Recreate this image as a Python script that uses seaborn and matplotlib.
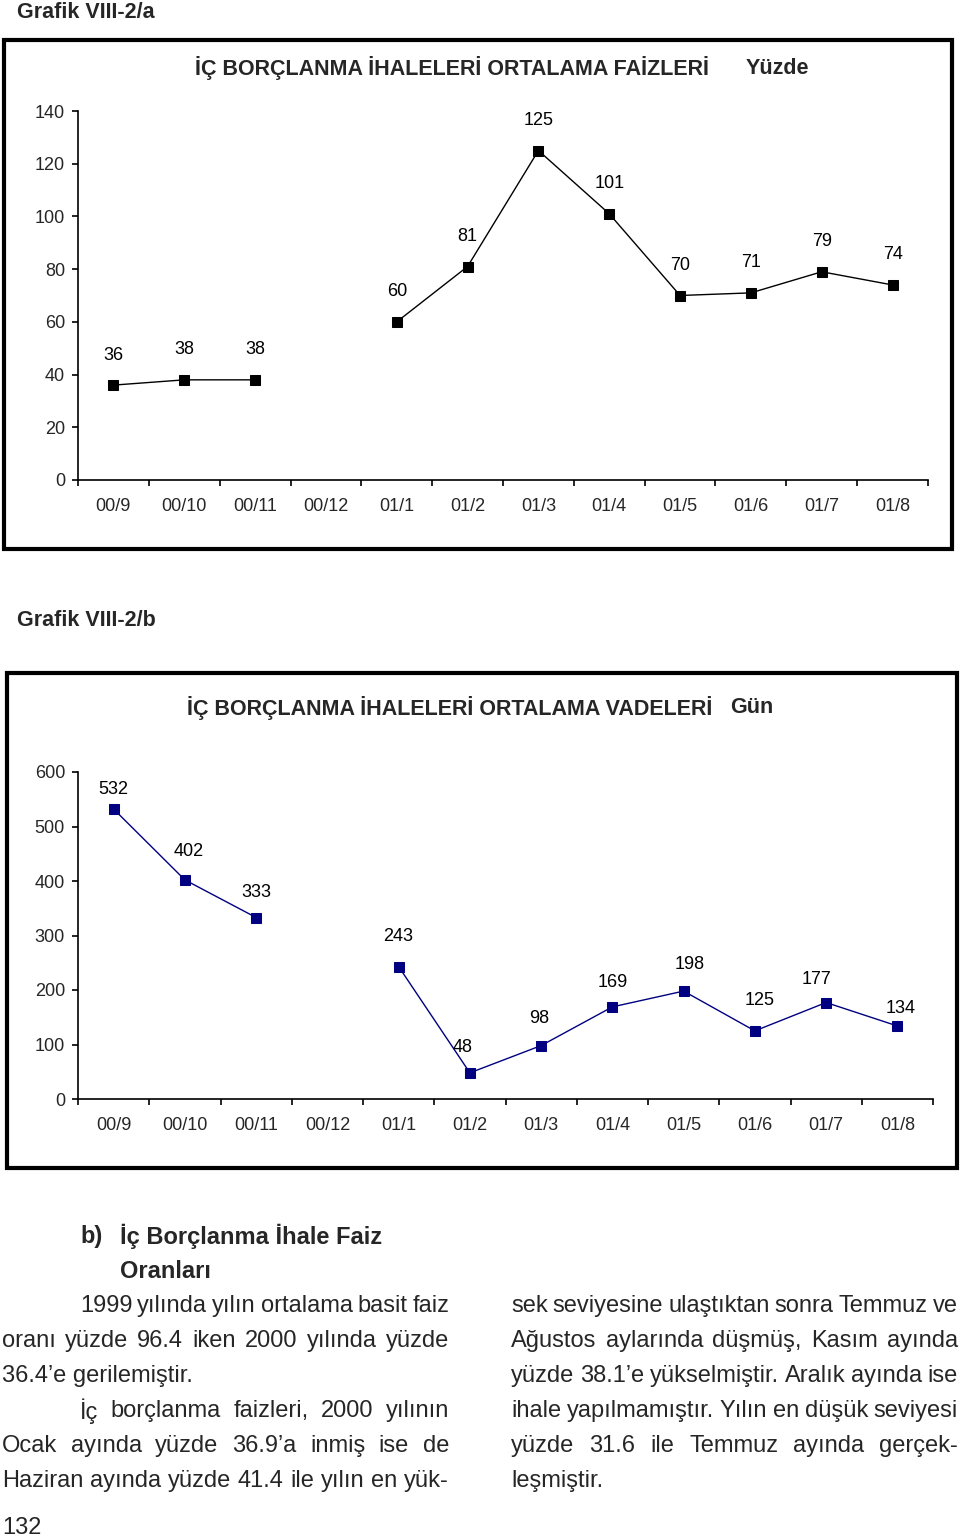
import numpy as np
import pandas as pd
import matplotlib
matplotlib.use("Agg")
import matplotlib.pyplot as plt
import seaborn as sns
from matplotlib.patches import Rectangle

W, H = 960, 1537

MONTHS = ["00/9", "00/10", "00/11", "00/12", "01/1", "01/2",
          "01/3", "01/4", "01/5", "01/6", "01/7", "01/8"]
FAIZ = [36, 38, 38, np.nan, 60, 81, 125, 101, 70, 71, 79, 74]
VADE = [532, 402, 333, np.nan, 243, 48, 98, 169, 198, 125, 177, 134]

# label offsets (px) from each point, as Excel placed them
FAIZ_OFF = [(0, 30)] * 12
VADE_OFF = [(0, 20), (4, 28), (0, 25), (0, 0), (0, 30), (-7, 25),
            (-2, 27), (0, 24), (6, 27), (5, 30), (-10, 23), (3, 17)]

LEFT_COL = [
    ("1999 yılında yılın ortalama basit faiz", 80, True),
    ("oranı yüzde 96.4 iken 2000 yılında yüzde", 2, True),
    ("36.4’e gerilemiştir.", 2, False),
    ("İç borçlanma faizleri, 2000 yılının", 80, True),
    ("Ocak ayında yüzde 36.9’a inmiş ise de", 2, True),
    ("Haziran ayında yüzde 41.4 ile yılın en yük-", 2, True),
]
RIGHT_COL = [
    "sek seviyesine ulaştıktan sonra Temmuz ve",
    "Ağustos aylarında düşmüş, Kasım ayında",
    "yüzde 38.1’e yükselmiştir. Aralık ayında ise",
    "ihale yapılmamıştır. Yılın en düşük seviyesi",
    "yüzde 31.6 ile Temmuz ayında gerçek-",
    "leşmiştir.",
]

sns.set_style("ticks")
plt.rcParams["font.family"] = ["Liberation Sans", "DejaVu Sans"]

fig = plt.figure(figsize=(W / 100, H / 100), dpi=100)
PT = 0.72  # points per pixel at dpi 100
TICK_FS = 13
TITLE_FS = 15.5


def fy(py):
    return 1 - py / H


def chart_axes(left, top, right, bottom):
    return fig.add_axes([left / W, 1 - bottom / H, (right - left) / W, (bottom - top) / H])


def draw_series(ax, values, color, ymax, ystep, offsets):
    df = pd.DataFrame({"pos": range(len(values)), "val": values})
    df["seg"] = df["val"].isna().cumsum()
    df = df.dropna()
    for _, part in df.groupby("seg"):
        sns.lineplot(data=part, x="pos", y="val", color=color, marker="s",
                     markersize=6.5, markeredgecolor=color, linewidth=1.0, ax=ax)
    for p, v in zip(df["pos"], df["val"]):
        dx, dy = offsets[p]
        ax.annotate(f"{v:.0f}", (p, v), xytext=(dx * PT, dy * PT),
                    textcoords="offset points", ha="center", va="center",
                    fontsize=TICK_FS, color="black")
    ax.set_xlim(-0.5, len(values) - 0.5)
    ax.set_ylim(0, ymax)
    ax.set_yticks(range(0, ymax + 1, ystep))
    ax.set_xticks(np.arange(-0.5, len(values), 1))
    ax.set_xticklabels([])
    ax.set_xticks(range(len(values)), minor=True)
    ax.set_xticklabels(MONTHS, minor=True)
    ax.tick_params(axis="x", which="minor", length=0, pad=13, labelsize=TICK_FS)
    ax.tick_params(axis="x", which="major", length=6 * PT, width=1.2, color="black")
    ax.tick_params(axis="y", length=6 * PT, width=1.2, pad=5, labelsize=TICK_FS, color="black")
    for s in ("left", "bottom"):
        ax.spines[s].set_linewidth(1.2)
        ax.spines[s].set_color("black")
    sns.despine(ax=ax)
    ax.set_xlabel("")
    ax.set_ylabel("")
    ax.set_facecolor("white")


# frames
fig.patches.append(Rectangle((4 / W, fy(549)), 948 / W, 509 / H, transform=fig.transFigure,
                             fill=False, lw=3, edgecolor="black"))
fig.patches.append(Rectangle((7 / W, fy(1168)), 950 / W, 495 / H, transform=fig.transFigure,
                             fill=False, lw=3, edgecolor="black"))

fig.text(17 / W, fy(12), "Grafik VIII-2/a", fontsize=15.5, fontweight="bold", va="center")
fig.text(17 / W, fy(620), "Grafik VIII-2/b", fontsize=15.5, fontweight="bold", va="center")

# chart a
ax1 = chart_axes(78, 111, 928, 480)
draw_series(ax1, FAIZ, "black", 140, 20, FAIZ_OFF)
fig.text(452 / W, fy(68), "İÇ BORÇLANMA İHALELERİ ORTALAMA FAİZLERİ", fontsize=TITLE_FS,
         fontweight="bold", ha="center", va="center")
fig.text(777 / W, fy(68), "Yüzde", fontsize=TITLE_FS, fontweight="bold", ha="center", va="center")

# chart b
ax2 = chart_axes(78, 772, 933, 1099)
draw_series(ax2, VADE, "#000080", 600, 100, VADE_OFF)
fig.text(450 / W, fy(708), "İÇ BORÇLANMA İHALELERİ ORTALAMA VADELERİ", fontsize=TITLE_FS,
         fontweight="bold", ha="center", va="center")
fig.text(752 / W, fy(708), "Gün", fontsize=TITLE_FS, fontweight="bold", ha="center", va="center")

# body text
renderer = fig.canvas.get_renderer()
BODY = 17


def put_line(text, x0, x1, y, justify, **kw):
    words = text.split(" ")
    if not justify or len(words) == 1:
        fig.text(x0 / W, fy(y), text, fontsize=BODY, va="center", **kw)
        return
    items = [fig.text(0, fy(y), w, fontsize=BODY, va="center", **kw) for w in words]
    widths = [t.get_window_extent(renderer).width for t in items]
    gap = (x1 - x0 - sum(widths)) / (len(words) - 1)
    x = x0
    for t, w in zip(items, widths):
        t.set_x(x / W)
        x += w + gap


fig.text(80 / W, fy(1236), "b)", fontsize=BODY, fontweight="bold", va="center")
fig.text(120 / W, fy(1236), "İç Borçlanma İhale Faiz", fontsize=BODY, fontweight="bold", va="center")
fig.text(120 / W, fy(1271), "Oranları", fontsize=BODY, fontweight="bold", va="center")

for i, (line, x0, just) in enumerate(LEFT_COL):
    put_line(line, x0, 449, 1306 + 35 * i, just)
for i, line in enumerate(RIGHT_COL):
    put_line(line, 511, 958, 1306 + 35 * i, i < len(RIGHT_COL) - 1)

fig.text(2 / W, fy(1528), "132", fontsize=BODY, va="center")

fig.savefig("out.png", dpi=100, facecolor="white")
